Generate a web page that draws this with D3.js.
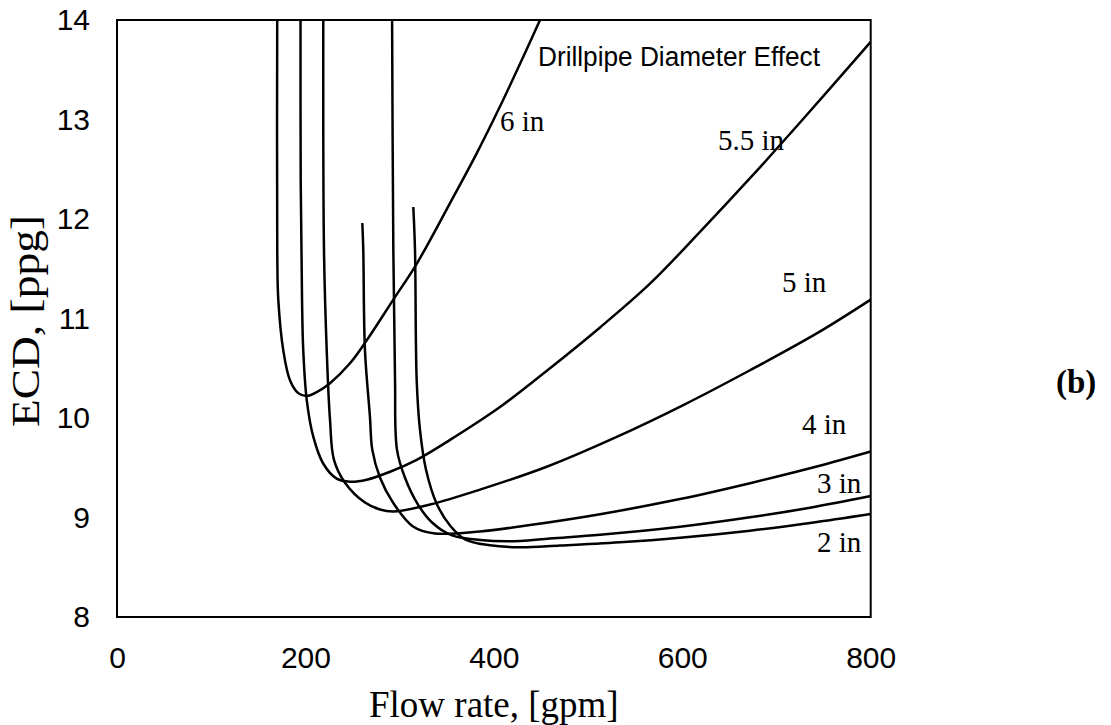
<!DOCTYPE html>
<html>
<head>
<meta charset="utf-8">
<script src="https://cdn.jsdelivr.net/npm/d3@7"></script>
<style>
  html, body { margin: 0; padding: 0; background: #fff; }
  svg { display: block; }
</style>
</head>
<body>
<svg id="chart" width="1111" height="725"></svg>
<script>
// ---- Data (flow rate [gpm], ECD [ppg]) ----
const xTicks = [0, 200, 400, 600, 800];
const yTicks = [8, 9, 10, 11, 12, 13, 14];

const pipe6in = [[170.1,14.2],[170.1,11.69],[171.2,11.19],[176.5,10.68],[183.6,10.38],[192.4,10.25],[201.4,10.22],[212.0,10.26],[226.1,10.35],[247.3,10.55],[265.0,10.78],[293.3,11.19],[318.1,11.55],[353.5,12.16],[381.8,12.66],[406.5,13.13],[427.8,13.56],[449.0,14.0],[457.5,14.18]];
const pipe55in = [[194.8,14.2],[195.0,12.39],[196.4,11.19],[197.7,10.68],[201.4,10.18],[208.4,9.81],[219.0,9.54],[233.2,9.39],[247.3,9.36],[265.0,9.38],[289.8,9.46],[318.1,9.58],[353.5,9.78],[406.5,10.11],[459.6,10.50],[512.7,10.91],[565.7,11.35],[618.8,11.87],[671.9,12.41],[725.0,12.97],[800,13.78]];
const pipe5in = [[219.0,14.2],[219.7,11.69],[222.6,10.68],[226.1,9.98],[230.3,9.58],[242.0,9.35],[263.2,9.15],[279.2,9.08],[293.3,9.06],[332.2,9.13],[385.3,9.28],[456.1,9.51],[530.4,9.81],[601.1,10.13],[671.9,10.48],[742.7,10.85],[800,11.19]];
const pipe4in = [[260.4,11.96],[261.4,11.69],[263.2,10.68],[268.5,10.01],[271.0,9.68],[279.2,9.40],[293.0,9.15],[314.2,8.91],[337.5,8.84],[385.3,8.86],[438.4,8.924],[512.7,9.033],[597.6,9.185],[671.9,9.345],[742.7,9.512],[800,9.663]];
const pipe3in = [[291.9,14.2],[293.3,11.69],[295.1,10.38],[297.2,9.68],[305.7,9.40],[319.5,9.13],[334.4,8.95],[355.6,8.82],[385.3,8.774],[427.8,8.764],[459.6,8.789],[512.7,8.826],[597.6,8.907],[671.9,9.002],[735.6,9.099],[800,9.216]];
const pipe2in = [[314.5,12.12],[316.3,11.69],[318.1,10.38],[321.6,9.88],[328.0,9.48],[339.7,9.13],[353.5,8.92],[369.4,8.78],[395.9,8.72],[427.8,8.70],[470.2,8.718],[533.9,8.751],[597.6,8.797],[671.9,8.868],[735.6,8.945],[800,9.035]];

const seriesList = [pipe6in, pipe55in, pipe5in, pipe4in, pipe3in, pipe2in];
const curveLabels = ["6 in", "5.5 in", "5 in", "4 in", "3 in", "2 in"];
const labelAt = [[406.5, 12.884], [637.9, 12.69], [705.9, 11.27], [727.1, 9.84], [743.0, 9.25], [743.0, 8.65]];

// ---- Layout ----
const svg = d3.select("#chart");
const x = d3.scaleLinear().domain([0, 800]).range([117, 870.7]);
const y = d3.scaleLinear().domain([8, 14]).range([617, 20]);

svg.append("defs").append("clipPath").attr("id", "plotclip")
  .append("rect")
  .attr("x", x(0)).attr("y", y(14))
  .attr("width", x(800) - x(0)).attr("height", y(8) - y(14));

// axes (no tick marks)
const xAxis = svg.append("g")
  .attr("transform", `translate(0,${y(8)})`)
  .call(d3.axisBottom(x).tickValues(xTicks).tickSize(0).tickPadding(30).tickFormat(d3.format("d")));
xAxis.select(".domain").remove();
xAxis.selectAll("text")
  .attr("font-family", "'Liberation Sans', Arial, sans-serif")
  .attr("font-size", 30).attr("fill", "#000");

const yAxis = svg.append("g")
  .attr("transform", `translate(${x(0)},0)`)
  .call(d3.axisLeft(y).tickValues(yTicks).tickSize(0).tickPadding(27).tickFormat(d3.format("d")));
yAxis.select(".domain").remove();
yAxis.selectAll("text")
  .attr("font-family", "'Liberation Sans', Arial, sans-serif")
  .attr("font-size", 30).attr("fill", "#000");

// curves
const line = d3.line()
  .x(d => x(d[0])).y(d => y(d[1]))
  .curve(d3.curveCatmullRom.alpha(0.5));

svg.append("g").attr("clip-path", "url(#plotclip)")
  .selectAll("path").data(seriesList).join("path")
  .attr("d", line)
  .attr("fill", "none").attr("stroke", "#000").attr("stroke-width", 2.5);

// plot frame
svg.append("rect")
  .attr("x", x(0)).attr("y", y(14))
  .attr("width", x(800) - x(0)).attr("height", y(8) - y(14))
  .attr("fill", "none").attr("stroke", "#000").attr("stroke-width", 2);

// curve labels
svg.append("g").selectAll("text").data(curveLabels).join("text")
  .attr("x", (d, i) => x(labelAt[i][0]))
  .attr("y", (d, i) => y(labelAt[i][1]))
  .attr("font-family", "'Liberation Serif', 'Times New Roman', serif")
  .attr("font-size", 29).attr("fill", "#000")
  .text(d => d);

// annotation
svg.append("text")
  .attr("x", 538).attr("y", 66)
  .attr("font-family", "'Liberation Sans', Arial, sans-serif")
  .attr("font-size", 27).attr("fill", "#000")
  .attr("textLength", 282).attr("lengthAdjust", "spacingAndGlyphs")
  .text("Drillpipe Diameter Effect");

// axis titles
svg.append("text")
  .attr("x", (x(0) + x(800)) / 2).attr("y", 717)
  .attr("text-anchor", "middle")
  .attr("font-family", "'Liberation Serif', 'Times New Roman', serif")
  .attr("font-size", 37).attr("fill", "#000")
  .text("Flow rate, [gpm]");

svg.append("text")
  .attr("transform", `translate(39,321) rotate(-90)`)
  .attr("text-anchor", "middle")
  .attr("font-family", "'Liberation Serif', 'Times New Roman', serif")
  .attr("font-size", 40).attr("fill", "#000")
  .attr("textLength", 212).attr("lengthAdjust", "spacingAndGlyphs")
  .text("ECD, [ppg]");

svg.append("text")
  .attr("x", 1056).attr("y", 393)
  .attr("font-family", "'Liberation Serif', 'Times New Roman', serif")
  .attr("font-size", 33).attr("font-weight", "bold").attr("fill", "#000")
  .text("(b)");
</script>
</body>
</html>
